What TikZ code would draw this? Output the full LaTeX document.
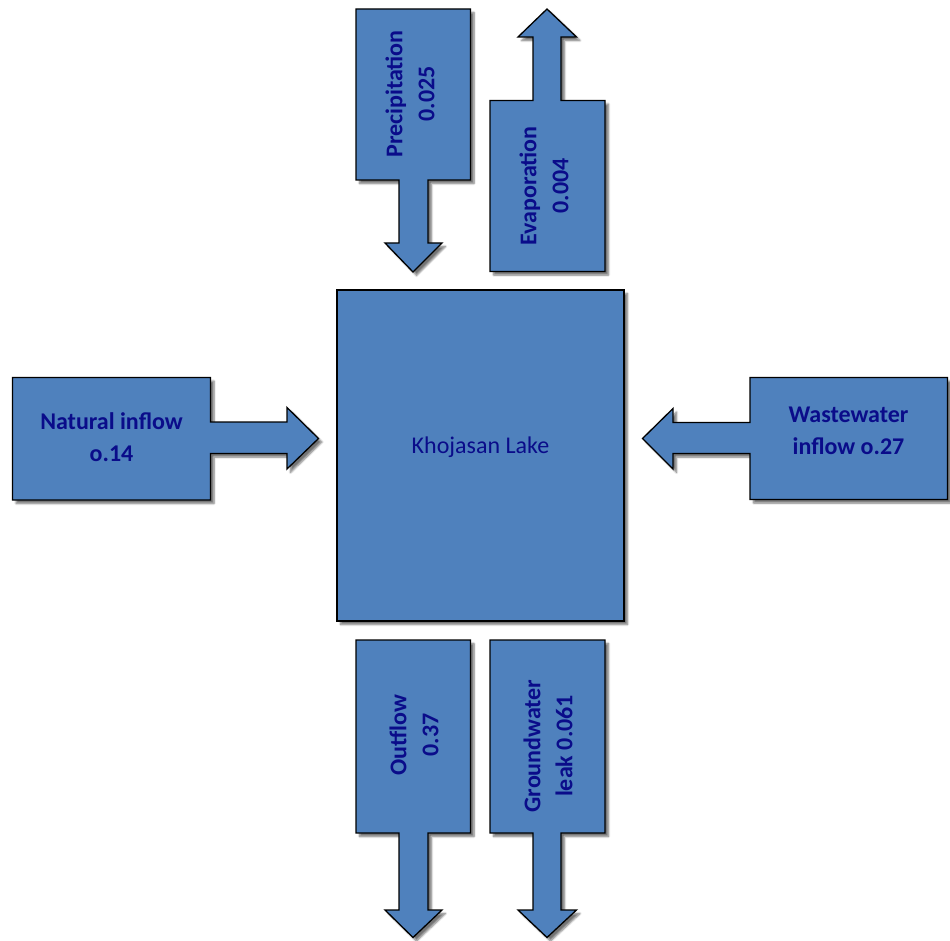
\documentclass[tikz,border=0pt]{standalone}
\usepackage{fontspec}
\setmainfont{Carlito}
\usetikzlibrary{shadows.blur}
\definecolor{boxblue}{HTML}{4F81BD}
\definecolor{txtblue}{HTML}{0A0C8A}
\begin{document}
\begin{tikzpicture}[x=1pt,y=-1pt,
  callout/.style={fill=boxblue,draw=black,line width=1.3pt,line join=miter,
    blur shadow={shadow xshift=3.5pt,shadow yshift=-3.5pt,shadow blur steps=6,shadow opacity=55}},
  lbl/.style={text=txtblue,font=\fontsize{24}{32}\selectfont\bfseries,align=center,inner sep=0pt},
  lake/.style={text=txtblue,font=\fontsize{24}{32}\selectfont,inner sep=0pt}]
\useasboundingbox (0,0) rectangle (950,941);
% central lake
\draw[callout] (337,290) rectangle (624,621);
\node[lake] (lk) at (480.5,447) {Khojasan Lake};
% precipitation (arrow down)
\draw[callout] (356,9) -- (470.5,9) -- (470.5,180) -- (428,180) -- (428,243) -- (442,243)
  -- (413,272) -- (385,243) -- (399,243) -- (399,180) -- (356,180) -- cycle;
\node[lbl,rotate=90] (pr) at (410,94) {Precipitation\\0.025};
% evaporation (arrow up)
\draw[callout] (490,271.5) -- (605,271.5) -- (605,100.5) -- (561,100.5) -- (561,37) -- (576.5,37)
  -- (547,9) -- (518,37) -- (533,37) -- (533,100.5) -- (490,100.5) -- cycle;
\node[lbl,rotate=90] (ev) at (544,186) {Evaporation\\0.004};
% natural inflow (arrow right)
\draw[callout] (12.5,377.5) -- (210.5,377.5) -- (210.5,422) -- (287,422) -- (287,407.5)
  -- (318.5,438.5) -- (287,469) -- (287,453.5) -- (210.5,453.5) -- (210.5,500) -- (12.5,500) -- cycle;
\node[lbl] (ni) at (111.5,437) {Natural inflow\\o.14};
% wastewater inflow (arrow left)
\draw[callout] (947.5,377.5) -- (750,377.5) -- (750,422.5) -- (673,422.5) -- (673,408.5)
  -- (642.5,438.5) -- (673,469) -- (673,453.5) -- (750,453.5) -- (750,499.5) -- (947.5,499.5) -- cycle;
\node[lbl] (ww) at (848.5,431) {Wastewater\\inflow o.27};
% outflow (arrow down)
\draw[callout] (356,640) -- (470.5,640) -- (470.5,833) -- (428,833) -- (428,910) -- (442,910)
  -- (413,937.5) -- (385,910) -- (399,910) -- (399,833) -- (356,833) -- cycle;
\node[lbl,rotate=90] (of) at (414,735) {Outflow\\0.37};
% groundwater leak (arrow down)
\draw[callout] (490,640) -- (605,640) -- (605,833) -- (561,833) -- (561,910) -- (576.5,910)
  -- (547,937.5) -- (518,910) -- (533,910) -- (533,833) -- (490,833) -- cycle;
\node[lbl,rotate=90] (gw) at (548,746) {Groundwater\\leak 0.061};
\end{tikzpicture}
\end{document}
